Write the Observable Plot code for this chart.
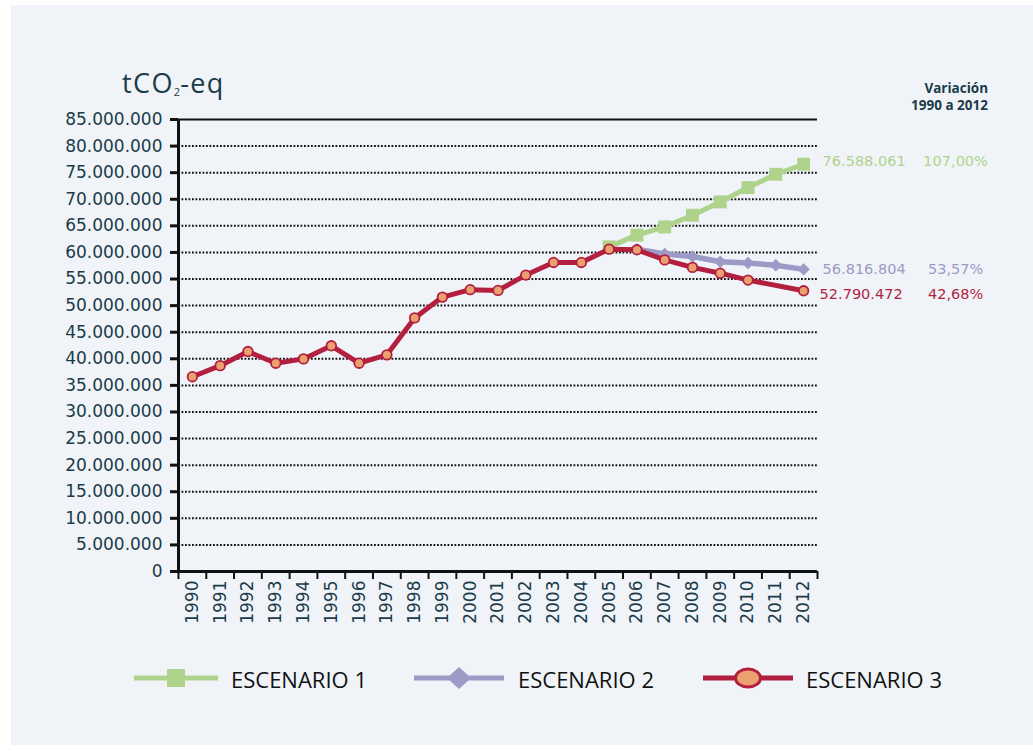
<!DOCTYPE html>
<html>
<head>
<meta charset="utf-8">
<script src="https://cdn.jsdelivr.net/npm/d3@7"></script>
<script src="https://cdn.jsdelivr.net/npm/@observablehq/plot@0.6"></script>
<style>
html,body{margin:0;padding:0;background:#fff;}
#page{position:relative;width:1033px;height:751px;overflow:hidden;}
#panel{position:absolute;left:11px;top:5px;width:1022px;height:740px;background:#f0f4f8;}
#title{position:absolute;left:122px;top:68px;font-family:"Open Sans";font-size:27px;line-height:30px;color:#1b3b4a;letter-spacing:1.4px;white-space:nowrap;}
#title .sub{font-size:11px;letter-spacing:0;position:relative;top:3px;}
#var{position:absolute;right:45px;top:80px;text-align:right;font-family:"Open Sans";font-weight:700;font-size:13.5px;line-height:17px;color:#1b3b4a;}
#chart{position:absolute;left:0;top:110px;}
#legend{position:absolute;left:0;top:660px;}
</style>
</head>
<body>
<div id="page">
  <div id="panel"></div>
  <div id="title">tCO<span class="sub">2</span>-eq</div>
  <div id="var">Variación<br>1990 a 2012</div>
  <div id="chart"></div>
  <div id="legend"></div>
</div>
<script>
// ---- data ----
const years = [1990,1991,1992,1993,1994,1995,1996,1997,1998,1999,2000,2001,2002,2003,2004,2005,2006,2007,2008,2009,2010,2011,2012];
// Escenario 3 (historical + projection); 2011 has no marker in the source
const escenario3 = [36630000,38710000,41360000,39170000,39980000,42440000,39170000,40740000,47690000,51600000,53000000,52860000,55740000,58120000,58120000,60620000,60500000,58600000,57190000,56100000,54800000,null,52790472];
const escenario1Years = [2005,2006,2007,2008,2009,2010,2011,2012];
const escenario1 = [61050000,63250000,64800000,67000000,69500000,72200000,74700000,76588061];
const escenario2Years = [2006,2007,2008,2009,2010,2011,2012];
const escenario2 = [60600000,59700000,59250000,58240000,58000000,57600000,56816804];
const seriesNames = ["ESCENARIO 1","ESCENARIO 2","ESCENARIO 3"];
const variation = [107.00, 53.57, 42.68];
const yTicks = [0,5000000,10000000,15000000,20000000,25000000,30000000,35000000,40000000,45000000,50000000,55000000,60000000,65000000,70000000,75000000,80000000,85000000];

const colors = {green:"#afd38b", purple:"#9c9ac6", red:"#b31f3f", orange:"#eaa06f", ink:"#1b3b4a", black:"#111"};

const es = d3.formatLocale({decimal:",", thousands:".", grouping:[3], currency:["",""]});
const fmtNum = es.format(",d");
const fmtPct = v => es.format(",.2f")(v) + "%";

const red = years.map((year,i)=>({year, value: escenario3[i]})).filter(d=>d.value!=null);
const green = escenario1Years.map((year,i)=>({year, value: escenario1[i]}));
const purple = escenario2Years.map((year,i)=>({year, value: escenario2[i]}));

const xDomain = [years[0]-0.5, years[years.length-1]+0.5];
const boundaries = years.map(y=>y-0.5).concat([xDomain[1]]);
const lastOf = a => [a[a.length-1]];

const chart = Plot.plot({
  width: 1033, height: 530,
  marginLeft: 178, marginRight: 216, marginTop: 9, marginBottom: 69,
  x: {type:"linear", domain: xDomain},
  y: {domain: [0, yTicks[yTicks.length-1]]},
  style: {background:"transparent", fontFamily:"DejaVu Sans", fontSize:"16px", overflow:"visible"},
  marks: [
    Plot.gridY(yTicks.slice(1, -1), {stroke: colors.black, strokeOpacity: 1, strokeWidth: 2, strokeDasharray: "1.8,1.7"}),
    Plot.ruleY(yTicks.slice(-1), {stroke: colors.black, strokeWidth: 2}),
    Plot.axisY(yTicks, {tickSize: 8, tickPadding: 8, stroke: colors.black, strokeWidth: 3, fill: colors.ink, tickFormat: fmtNum, fontSize: 17, label: null}),
    Plot.axisX(boundaries, {tickSize: 8, stroke: colors.black, strokeWidth: 2, tickFormat: () => "", label: null}),
    Plot.axisX(years, {tickSize: 0, tickPadding: 9, tickRotate: -90, tickFormat: "d", fill: colors.ink, fontSize: 17, label: null}),
    Plot.ruleY([0], {stroke: colors.black, strokeWidth: 3}),
    Plot.ruleX([xDomain[0]], {stroke: colors.black, strokeWidth: 3}),
    // Escenario 1
    Plot.line(green, {x:"year", y:"value", stroke: colors.green, strokeWidth: 5, strokeLinejoin:"round"}),
    Plot.dot(green, {x:"year", y:"value", symbol:"square", r: 7.3, fill: colors.green}),
    // Escenario 2
    Plot.line(purple, {x:"year", y:"value", stroke: colors.purple, strokeWidth: 5.5, strokeLinejoin:"round"}),
    Plot.dot(purple, {x:"year", y:"value", symbol:"diamond2", r: 5.6, fill: colors.purple}),
    // Escenario 3
    Plot.line(red, {x:"year", y:"value", stroke: colors.red, strokeWidth: 5, strokeLinejoin:"round"}),
    Plot.dot(red, {x:"year", y:"value", r: 4.8, fill: colors.orange, stroke: colors.red, strokeWidth: 1.8}),
    // end labels
    Plot.text(lastOf(green), {x:"year", y:"value", text: d=>fmtNum(d.value), dx: 19, dy: -3, textAnchor:"start", fill: colors.green, fontSize: 14.5}),
    Plot.text(lastOf(green), {x:"year", y:"value", text: () => fmtPct(variation[0]), dx: 152, dy: -3, textAnchor:"middle", fill: colors.green, fontSize: 14.5}),
    Plot.text(lastOf(purple), {x:"year", y:"value", text: d=>fmtNum(d.value), dx: 19, textAnchor:"start", fill: colors.purple, fontSize: 14.5}),
    Plot.text(lastOf(purple), {x:"year", y:"value", text: () => fmtPct(variation[1]), dx: 152, textAnchor:"middle", fill: colors.purple, fontSize: 14.5}),
    Plot.text(lastOf(red), {x:"year", y:"value", text: d=>fmtNum(d.value), dx: 16, dy: 4, textAnchor:"start", fill: colors.red, fontSize: 14.5}),
    Plot.text(lastOf(red), {x:"year", y:"value", text: () => fmtPct(variation[2]), dx: 152, dy: 4, textAnchor:"middle", fill: colors.red, fontSize: 14.5})
  ]
});
document.getElementById("chart").appendChild(chart);

// ---- legend ----
const ns = "http://www.w3.org/2000/svg";
const lg = document.createElementNS(ns, "svg");
lg.setAttribute("width", 1033); lg.setAttribute("height", 40);
function el(tag, attrs){ const e = document.createElementNS(ns, tag); for (const k in attrs) e.setAttribute(k, attrs[k]); lg.appendChild(e); return e; }
const cy = 18;
// 1
el("line", {x1:134, x2:218, y1:cy, y2:cy, stroke: colors.green, "stroke-width":5});
el("rect", {x:167, y:cy-9, width:18, height:18, fill: colors.green});
// 2
el("line", {x1:414, x2:504, y1:cy, y2:cy, stroke: colors.purple, "stroke-width":5});
el("path", {d:`M459,${cy-11} L471,${cy} L459,${cy+11} L447,${cy} Z`, fill: colors.purple});
// 3
el("line", {x1:703, x2:793, y1:cy, y2:cy, stroke: colors.red, "stroke-width":5});
el("ellipse", {cx:748, cy:cy, rx:12.5, ry:9, fill: colors.orange, stroke: colors.red, "stroke-width":3});
const lx = [231, 518, 806];
seriesNames.forEach((n,i)=>{
  const t = el("text", {x: lx[i], y: 27.5, fill: colors.black, "font-family":"Open Sans", "font-size": 22});
  t.textContent = n;
});
document.getElementById("legend").appendChild(lg);
</script>
</body>
</html>
